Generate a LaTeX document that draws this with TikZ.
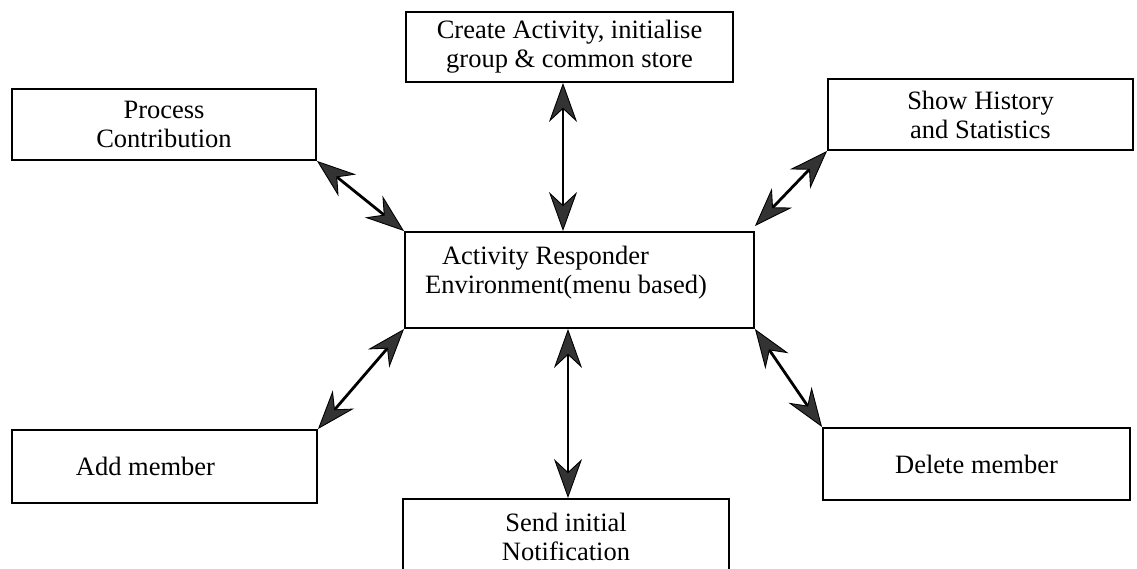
\documentclass[tikz,border=0pt]{standalone}
\usepackage{fontspec}
\setmainfont{Liberation Serif}
\usetikzlibrary{arrows.meta}
\tikzset{bigtip/.tip={Stealth[length=39pt, width=28pt, inset=13pt, fill=black!80, line width=0.9pt]}}
\begin{document}
\begin{tikzpicture}[x=1pt,y=-1pt,
  box/.style={draw=black, line width=1.9pt, rectangle, inner sep=0pt, align=center,
    font=\fontsize{26.5}{29}\selectfont},
  txt/.style={inner sep=0pt, align=left, font=\fontsize{26.5}{29}\selectfont},
  biarrow/.style={draw=black, line width=#1, bigtip-bigtip},
  biarrow/.default=2.8pt]
\useasboundingbox (0,0) rectangle (1137,569);

% menu options around the central environment
\node[box, minimum width=327pt, minimum height=70pt] (create) at (569.5,47)
  {Create Activity, initialise\\group \& common store};
\node[box, minimum width=304pt, minimum height=71pt] (process) at (164,124.5)
  {Process\\Contribution};
\node[box, minimum width=305pt, minimum height=71pt] (history) at (980.5,114.5)
  {Show History\\and Statistics};
\node[box, minimum width=349pt, minimum height=96pt] (env) at (579.5,280) {};
\node[txt] (envtext) at (566,273)
  {\hspace{17pt}Activity Responder\\Environment(menu based)};
\node[box, minimum width=305pt, minimum height=73pt] (add) at (164.5,466.5)
  {\hspace{-38pt}Add member};
\node[box, minimum width=307pt, minimum height=72pt] (delete) at (976.5,464)
  {Delete member};
\node[box, minimum width=326pt, minimum height=76pt] (send) at (566,537)
  {Send initial\\Notification};

% two-way links to the environment
\draw[biarrow=2pt] ([xshift=-6.5pt]create.south) -- ([xshift=-6.5pt]create.south |- env.north);
\draw[biarrow=2pt] ([xshift=2pt]send.north) -- ([xshift=2pt]send.north |- env.south);
\draw[biarrow] (process.south east) -- (env.north west);
\draw[biarrow] (history.south west) -- ([yshift=5pt]env.north east);
\draw[biarrow] (add.north east) -- (env.south west);
\draw[biarrow] (env.south east) -- (delete.north west);
\end{tikzpicture}
\end{document}
